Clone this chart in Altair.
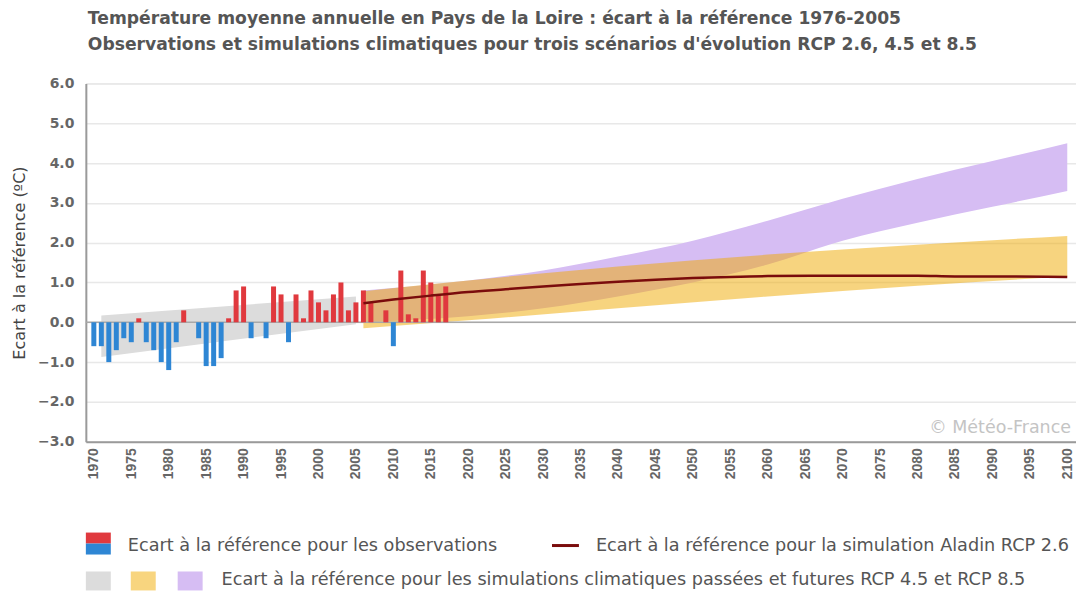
import altair as alt
import pandas as pd

# ---------------- data ----------------
obs_years = [1970, 1971, 1972, 1973, 1974, 1975, 1976, 1977, 1978, 1979,
             1980, 1981, 1982, 1983, 1984, 1985, 1986, 1987, 1988, 1989,
             1990, 1991, 1992, 1993, 1994, 1995, 1996, 1997, 1998, 1999,
             2000, 2001, 2002, 2003, 2004, 2005, 2006, 2007, 2008, 2009,
             2010, 2011, 2012, 2013, 2014, 2015, 2016, 2017]
obs_values = [-0.6, -0.6, -1.0, -0.7, -0.4, -0.5, 0.1, -0.5, -0.7, -1.0,
              -1.2, -0.5, 0.3, 0.0, -0.4, -1.1, -1.1, -0.9, 0.1, 0.8,
              0.9, -0.4, 0.0, -0.4, 0.9, 0.7, -0.5, 0.7, 0.1, 0.8,
              0.5, 0.3, 0.7, 1.0, 0.3, 0.5, 0.8, 0.5, 0.0, 0.3,
              -0.6, 1.3, 0.2, 0.1, 1.3, 1.0, 0.7, 0.9]

grey_years = [1971, 2005]
grey_low = [-0.87, -0.05]
grey_high = [0.17, 0.65]

rcp45_years = [2006, 2020, 2040, 2060, 2080, 2100]
rcp45_low = [-0.15, 0.05, 0.35, 0.65, 0.92, 1.15]
rcp45_high = [0.78, 1.05, 1.4, 1.7, 1.95, 2.17]

rcp85_years = [2006, 2020, 2030, 2040, 2050, 2060, 2070, 2080, 2090, 2100]
rcp85_low = [0.0, 0.15, 0.35, 0.65, 1.0, 1.45, 2.05, 2.5, 2.9, 3.3]
rcp85_high = [0.8, 1.05, 1.3, 1.65, 2.05, 2.55, 3.1, 3.6, 4.05, 4.5]

aladin_years = [2006, 2010, 2015, 2020, 2025, 2030, 2035, 2040, 2045, 2050,
                2055, 2060, 2070, 2080, 2085, 2090, 2100]
aladin_values = [0.48, 0.57, 0.67, 0.76, 0.83, 0.9, 0.96, 1.02, 1.07, 1.11,
                 1.14, 1.16, 1.17, 1.17, 1.15, 1.15, 1.14]

x_ticks = [1970, 1975, 1980, 1985, 1990, 1995, 2000, 2005, 2010, 2015, 2020,
           2025, 2030, 2035, 2040, 2045, 2050, 2055, 2060, 2065, 2070, 2075,
           2080, 2085, 2090, 2095, 2100]
y_ticks = [-3, -2, -1, 0, 1, 2, 3, 4, 5, 6]

title1 = "Température moyenne annuelle en Pays de la Loire : écart à la référence 1976-2005"
title2 = "Observations et simulations climatiques pour trois scénarios d'évolution RCP 2.6, 4.5 et 8.5"
y_title = "Ecart à la référence (ºC)"
leg_obs = "Ecart à la référence pour les observations"
leg_aladin = "Ecart à la référence pour la simulation Aladin RCP 2.6"
leg_sims = "Ecart à la référence pour les simulations climatiques passées et futures RCP 4.5 et RCP 8.5"
watermark = "© Météo-France"

# ---------------- styling ----------------
FONT = "DejaVu Sans"
XFONT = "Liberation Sans"
RED = "#e0393e"
BLUE = "#2e86d4"
GREY_BAND = "#dcdcdc"
ORANGE = "#f0aa00"
PURPLE = "#d6bdf3"
LINE = "#7a0c0c"
TXT = "#555555"

xscale = alt.Scale(domain=[1969.6, 2100.5], nice=False, zero=False)
yscale = alt.Scale(domain=[-3, 6], nice=False)

xaxis = alt.Axis(values=x_ticks, format="d", labelAngle=-90, labelAlign="right",
                 labelBaseline="middle", labelFontWeight="bold", labelFontSize=14,
                 labelColor="#666666", labelFont=XFONT, grid=False, ticks=False,
                 domainColor="#9a9a9a", domainWidth=2, labelPadding=6,
                 title=None, labelOverlap=False)
yaxis = alt.Axis(values=y_ticks, format=".1f", labelFontWeight="bold",
                 labelFontSize=14, labelColor="#666666", labelFont=FONT,
                 gridColor="#e8e8e8", gridWidth=1.5, ticks=False,
                 domainColor="#9a9a9a", domainWidth=2, labelPadding=12,
                 title=y_title, titleFont=FONT, titleFontSize=16,
                 titleFontWeight="normal", titleColor="#444444", titlePadding=10)


def X(field):
    return alt.X(field, type="quantitative", scale=xscale, axis=xaxis)


def Y(field):
    return alt.Y(field, type="quantitative", scale=yscale, axis=yaxis)


df_obs = pd.DataFrame({"year": obs_years, "value": obs_values})
df_grey = pd.DataFrame({"year": grey_years, "low": grey_low, "high": grey_high})
df_45 = pd.DataFrame({"year": rcp45_years, "low": rcp45_low, "high": rcp45_high})
df_85 = pd.DataFrame({"year": rcp85_years, "low": rcp85_low, "high": rcp85_high})
df_al = pd.DataFrame({"year": aladin_years, "value": aladin_values})
one = pd.DataFrame({"k": [0]})

grey = alt.Chart(df_grey).mark_area(color=GREY_BAND).encode(
    x=X("year"), y=Y("high"), y2="low")
purple = alt.Chart(df_85).mark_area(color=PURPLE, interpolate="monotone").encode(
    x=X("year"), y=Y("high"), y2="low")
orange = alt.Chart(df_45).mark_area(color=ORANGE, opacity=0.5, interpolate="monotone").encode(
    x=X("year"), y=Y("high"), y2="low")
zero = alt.Chart(one).mark_rule(color="#a8a8a8", strokeWidth=1.5).encode(
    y=alt.Y("k:Q", scale=yscale, axis=yaxis))
bars = alt.Chart(df_obs).mark_bar(size=5).encode(
    x=X("year"), y=Y("value"),
    color=alt.condition("datum.value > 0", alt.value(RED), alt.value(BLUE)))
line = alt.Chart(df_al).mark_line(color=LINE, strokeWidth=2.5, interpolate="monotone").encode(
    x=X("year"), y=Y("value"))

wm = alt.Chart(one).mark_text(text=watermark, font=FONT, fontSize=17.5,
                              color="#c4c4c4", align="right", baseline="middle").encode(
    x=alt.value(987), y=alt.value(345))

t1 = alt.Chart(one).mark_text(text=title1, font=FONT, fontSize=17.2, fontWeight="bold",
                              color=TXT, align="left", baseline="middle").encode(
    x=alt.value(2), y=alt.value(-65))
t2 = alt.Chart(one).mark_text(text=title2, font=FONT, fontSize=17.2, fontWeight="bold",
                              color=TXT, align="left", baseline="middle").encode(
    x=alt.value(2), y=alt.value(-38))


def rect(x0, x1, y0, y1, color):
    return alt.Chart(one).mark_rect(color=color).encode(
        x=alt.value(x0), x2=alt.value(x1), y=alt.value(y0), y2=alt.value(y1))


def label(txt, x, y):
    return alt.Chart(one).mark_text(text=txt, font=FONT, fontSize=17.7, color=TXT,
                                    align="left", baseline="middle").encode(
        x=alt.value(x), y=alt.value(y))


leg = [
    rect(0, 25, 450, 461, RED),
    rect(0, 25, 461, 472, BLUE),
    label(leg_obs, 42, 463),
    alt.Chart(one).mark_rule(color=LINE, strokeWidth=3).encode(
        x=alt.value(467), x2=alt.value(494), y=alt.value(463)),
    label(leg_aladin, 511, 463),
    rect(0, 25, 489, 508, GREY_BAND),
    rect(45, 70, 489, 508, "#f8d57f"),
    rect(92, 117, 489, 508, PURPLE),
    label(leg_sims, 136, 498),
]

chart = alt.layer(grey, purple, orange, zero, bars, line, wm, t1, t2, *leg).properties(
    width=992, height=359,
    autosize=alt.AutoSizeParams(type="none"),
    padding={"left": 78, "top": 75, "right": 0, "bottom": 150},
).configure_view(stroke=None).configure(background="white")

chart.save("out.html", embed_options={"renderer": "svg", "actions": False})
